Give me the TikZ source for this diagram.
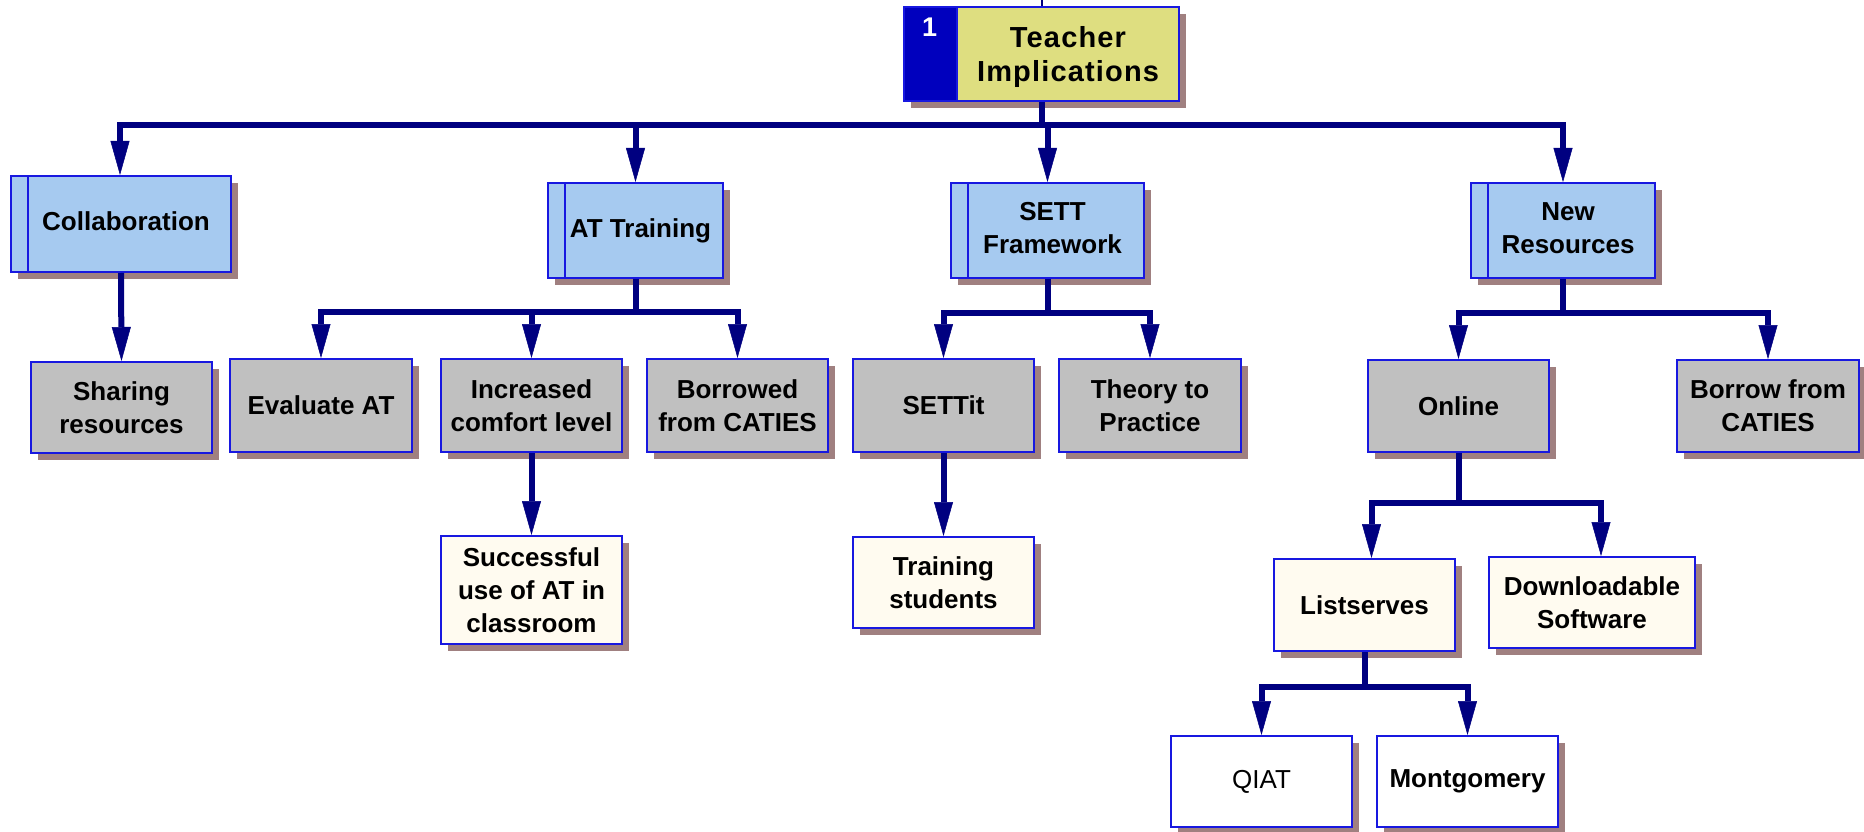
\documentclass[tikz,border=0pt]{standalone}
\usepackage{fontspec}
\setmainfont{Liberation Sans}
\newfontfamily\topfont[LetterSpace=4]{Liberation Sans}
\usetikzlibrary{arrows.meta,shadows,calc}
\definecolor{navyc}{RGB}{0,0,128}
\definecolor{bordc}{RGB}{24,24,224}
\definecolor{shadc}{RGB}{160,128,128}
\definecolor{lblue}{RGB}{166,202,240}
\definecolor{greyc}{RGB}{192,192,192}
\definecolor{creamc}{RGB}{255,251,240}
\definecolor{yellc}{RGB}{222,222,128}
\definecolor{stripc}{RGB}{0,0,190}
\newcommand\stx[1]{\hspace*{10pt}\begin{tabular}{@{}c@{}}#1\end{tabular}}
\begin{document}
\begin{tikzpicture}[x=1pt,y=-1pt,
  box/.style={draw=bordc, line width=2pt, rectangle, inner sep=0pt,
    minimum width=181pt, minimum height=92pt, align=center,
    font=\fontsize{26}{33}\selectfont\bfseries,
    general shadow={fill=shadc, shadow xshift=7pt, shadow yshift=-7pt}},
  stripbox/.style={box, fill=lblue, minimum height=95pt,
    path picture={\draw[bordc,line width=2pt]
      ([xshift=17pt]path picture bounding box.north west) --
      ([xshift=17pt]path picture bounding box.south west);}},
  greybox/.style={box, fill=greyc},
  creambox/.style={box, fill=creamc},
  whitebox/.style={box, fill=white},
  numbox/.style={box, fill=stripc, minimum width=53pt, minimum height=94pt},
  topbox/.style={box, fill=yellc, minimum width=222pt, minimum height=94pt,
    font=\topfont\fontsize{29}{34}\selectfont\bfseries},
  numtext/.style={inner sep=0pt, text=white, font=\fontsize{27}{30}\selectfont\bfseries},
  conn/.style={draw=navyc, line width=6pt},
  arr/.style={-{Triangle[width=19pt,length=34pt,line width=0.5pt]}},
]
\useasboundingbox (0,0) rectangle (1864,832);

% top node
\node[numbox] (num) at (930.5,54) {};
\node[topbox] (top) at (1068,54) {\begin{tabular}{@{}c@{}}\rule{0pt}{31pt}Teacher\\Implications\end{tabular}};
\node[numtext] (one) at (929.5,27) {1};
\coordinate (tb) at ($(num.south west)!0.5!(top.south east)$);
\coordinate (stub) at (1041.5,0);
\draw[navyc, line width=2pt] (tb |- top.north) -- (stub);

% level 1
\node[stripbox, minimum width=220pt, minimum height=96pt] (collab) at (121,224) {\stx{Collaboration}};
\node[stripbox, minimum width=175pt] (attr) at (635.5,230.5) {\stx{AT Training}};
\node[stripbox, minimum width=193pt] (sett) at (1047.5,230.5) {\stx{SETT\\Framework}};
\node[stripbox, minimum width=184pt] (newres) at (1563,230.5) {\stx{New\\Resources}};

% level 2
\node[greybox, minimum height=91pt] (share) at (121.5,407.5) {Sharing\\resources};
\node[greybox, minimum width=182pt, minimum height=93pt] (evalat) at (321,405.5) {Evaluate AT};
\node[greybox, minimum height=93pt] (incr) at (531.5,405.5) {Increased\\comfort level};
\node[greybox, minimum height=93pt] (borrowed) at (737.5,405.5) {Borrowed\\from CATIES};
\node[greybox, minimum height=93pt] (settit) at (943.5,405.5) {SETTit};
\node[greybox, minimum width=182pt, minimum height=93pt] (theory) at (1150,405.5) {Theory to\\Practice};
\node[greybox] (online) at (1458.5,406) {Online};
\node[greybox, minimum width=182pt] (borrow) at (1768,406) {Borrow from\\CATIES};

% level 3
\node[creambox, minimum height=108pt] (success) at (531.5,590) {Successful\\use of AT in\\classroom};
\node[creambox, minimum height=91pt] (trainst) at (943.5,582.5) {Training\\students};
\node[creambox] (lists) at (1364.5,605) {Listserves};
\node[creambox, minimum width=206pt, minimum height=91pt] (downl) at (1592,602.5) {Downloadable\\Software};

% level 4
\node[whitebox, minimum height=91pt, font=\fontsize{26}{33}\selectfont] (qiat) at (1261.5,781.5) {QIAT};
\node[whitebox, minimum height=91pt] (montg) at (1467.5,781.5) {Montgomery};

% connectors: main
\draw[conn] (tb) -- (tb |- 0,125);
\draw[conn,arr] (tb |- 0,125) -| ([xshift=-1pt]collab.north);
\draw[conn,arr] (tb |- 0,125) -| (attr.north);
\draw[conn,arr] (tb |- 0,125) -| (sett.north);
\draw[conn,arr] (tb |- 0,125) -| (newres.north);

% collaboration
\draw[conn,arr] (collab.south) -- (share.north);

% AT training
\draw[conn] (attr.south) -- (attr.south |- 0,312);
\draw[conn,arr] (attr.south |- 0,312) -| (evalat.north);
\draw[conn,arr] (attr.south |- 0,312) -| (incr.north);
\draw[conn,arr] (attr.south |- 0,312) -| (borrowed.north);
\draw[conn,arr] (incr.south) -- (success.north);

% SETT
\draw[conn] (sett.south) -- (sett.south |- 0,313);
\draw[conn,arr] (sett.south |- 0,313) -| (settit.north);
\draw[conn,arr] (sett.south |- 0,313) -| (theory.north);
\draw[conn,arr] (settit.south) -- (trainst.north);

% New resources
\draw[conn] (newres.south) -- (newres.south |- 0,313);
\draw[conn,arr] (newres.south |- 0,313) -| (online.north);
\draw[conn,arr] (newres.south |- 0,313) -| (borrow.north);

% Online
\draw[conn] (online.south) -- (online.south |- 0,503);
\draw[conn,arr] (online.south |- 0,503) -| ([xshift=7pt]lists.north);
\draw[conn,arr] (online.south |- 0,503) -| ([xshift=9pt]downl.north);

% Listserves
\draw[conn] (lists.south) -- (lists.south |- 0,687);
\draw[conn,arr] (lists.south |- 0,687) -| (qiat.north);
\draw[conn,arr] (lists.south |- 0,687) -| (montg.north);
\end{tikzpicture}
\end{document}
